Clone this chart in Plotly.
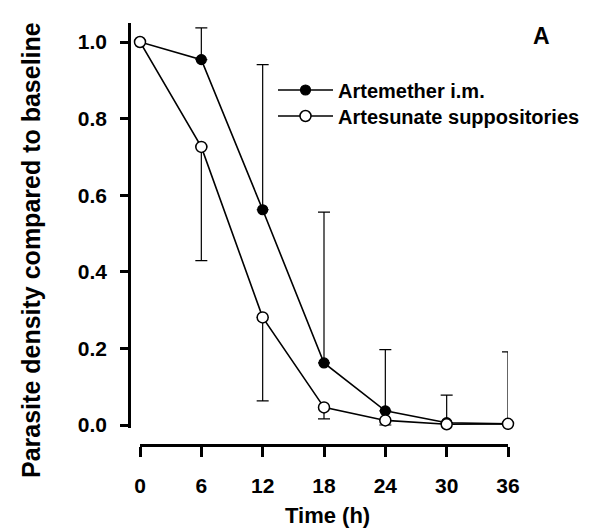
import plotly.graph_objects as go

# ---- data ----
time_h = [0, 6, 12, 18, 24, 30, 36]
artemether = [1.0, 0.954, 0.562, 0.162, 0.037, 0.006, 0.003]
artemether_err_up = [None, 0.083, 0.379, 0.394, 0.160, 0.072, 0.188]
artesunate = [1.0, 0.726, 0.281, 0.046, 0.012, 0.002, 0.003]
artesunate_err_down = [None, 0.297, 0.218, 0.030, 0.012, None, None]
x_ticks = [0, 6, 12, 18, 24, 30, 36]
y_ticks = [0.0, 0.2, 0.4, 0.6, 0.8, 1.0]

FONT = "Liberation Sans"
W, H = 612, 529
ML, MR, MT, MB = 121, 112, 15, 92
PW = W - ML - MR
PH = H - MT - MB

def px_x(p):
    return (p - ML) / PW

def px_y(p):
    return (H - MB - p) / PH

fig = go.Figure()
fig.add_trace(go.Scatter(
    x=time_h, y=artemether, mode="lines+markers", name="Artemether i.m.",
    legend="legend",
    line=dict(color="black", width=1.6),
    marker=dict(symbol="circle", size=10, color="black", line=dict(color="black", width=1.2)),
    error_y=dict(type="data", symmetric=False, array=artemether_err_up,
                 arrayminus=[None] * len(time_h), color="black", thickness=1.2, width=6),
    cliponaxis=False,
))
fig.add_trace(go.Scatter(
    x=time_h, y=artesunate, mode="lines+markers", name="Artesunate suppositories",
    legend="legend2",
    line=dict(color="black", width=1.6),
    marker=dict(symbol="circle", size=11, color="white", line=dict(color="black", width=1.5)),
    error_y=dict(type="data", symmetric=False, array=[None] * len(time_h),
                 arrayminus=artesunate_err_down, color="black", thickness=1.2, width=6),
    cliponaxis=False,
))

legend_common = dict(xanchor="left", yanchor="middle",
                     font=dict(family=FONT, size=20, color="black", weight="bold"),
                     bgcolor="rgba(0,0,0,0)", borderwidth=0, itemwidth=55)

fig.update_layout(
    width=W, height=H,
    margin=dict(l=ML, r=MR, t=MT, b=MB, pad=0),
    paper_bgcolor="white", plot_bgcolor="white",
    font=dict(family=FONT, size=21, color="black", weight="bold"),
    showlegend=True,
    legend=dict(x=px_x(265), y=px_y(82), **legend_common),
    legend2=dict(x=px_x(265), y=px_y(108), **legend_common),
    xaxis=dict(domain=[(132 - ML) / PW, 1], range=[0, 36], anchor="free", position=0,
               tickmode="array", tickvals=x_ticks, ticktext=[str(v) for v in x_ticks],
               showline=True, linecolor="black", linewidth=2.5,
               ticks="outside", ticklen=10, tickwidth=2.5, tickcolor="black",
               showgrid=False, zeroline=False, ticklabelstandoff=11,
               tickfont=dict(family=FONT, size=21, color="black", weight="bold")),
    yaxis=dict(domain=[(H - MB - 420) / PH, 1], range=[-0.0078, 1.0496], anchor="free", position=0,
               tickmode="array", tickvals=y_ticks, ticktext=[f"{v:.1f}" for v in y_ticks],
               showline=True, linecolor="black", linewidth=2.5,
               ticks="outside", ticklen=8, tickwidth=2.5, tickcolor="black",
               showgrid=False, zeroline=False, ticklabelstandoff=9,
               tickfont=dict(family=FONT, size=21, color="black", weight="bold")),
    annotations=[
        dict(text="Time (h)", xref="paper", yref="paper", x=px_x(319), y=px_y(507),
             xanchor="center", yanchor="middle", showarrow=False,
             font=dict(family=FONT, size=22, color="black", weight="bold")),
        dict(text="Parasite density compared to baseline", xref="paper", yref="paper",
             x=px_x(23), y=px_y(242), xanchor="center", yanchor="middle", textangle=-90,
             showarrow=False, font=dict(family=FONT, size=25, color="black", weight="bold")),
        dict(text="A", xref="paper", yref="paper", x=px_x(533), y=px_y(28),
             xanchor="center", yanchor="middle", showarrow=False,
             font=dict(family=FONT, size=23, color="black", weight="bold")),
    ],
)

fig.write_html("out.html")
